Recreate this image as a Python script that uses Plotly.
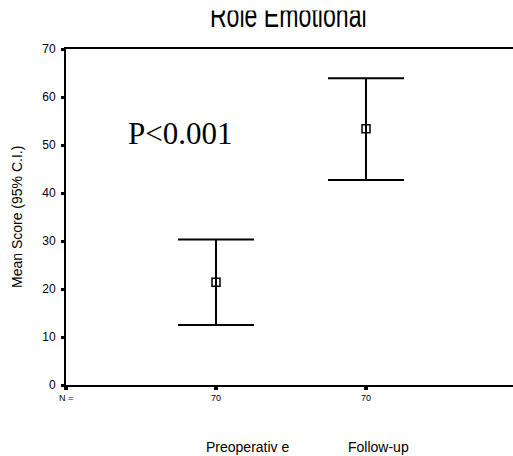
import plotly.graph_objects as go

# ---- data ----
categories = ["Preoperativ e", "Follow-up"]
n_counts = [70, 70]
mean_scores = [21.4, 53.4]
ci_upper = [30.3, 63.9]
ci_lower = [12.5, 42.7]
y_ticks = [0, 10, 20, 30, 40, 50, 60, 70]
p_text = "P<0.001"
chart_title = "Role Emotional"
y_title = "Mean Score (95% C.I.)"

xpos = list(range(1, len(categories) + 1))
err_plus = [u - m for u, m in zip(ci_upper, mean_scores)]
err_minus = [m - l for m, l in zip(mean_scores, ci_lower)]

fig = go.Figure()
fig.add_trace(go.Scatter(
    x=xpos, y=mean_scores, mode="markers",
    marker=dict(symbol="square-open", size=8, color="black", line=dict(width=1.5, color="black")),
    error_y=dict(type="data", array=err_plus, arrayminus=err_minus, symmetric=False,
                 color="black", thickness=2, width=38),
    showlegend=False, hoverinfo="skip",
))

font_sans = "Liberation Sans, Arial, sans-serif"
annotations = []
# category labels below the N row
label_shift = [31, 12]
for xp, cat, sh in zip(xpos, categories, label_shift):
    annotations.append(dict(x=xp, xref="x", y=0, yref="paper", yshift=-62, xshift=sh,
                            text=cat, showarrow=False, xanchor="center", yanchor="middle",
                            font=dict(family=font_sans, size=14, color="black")))
# P value
annotations.append(dict(x=0.76, xref="x", y=52.3, yref="y", text=p_text, showarrow=False,
                        xanchor="center", yanchor="middle",
                        font=dict(family="Liberation Serif, Times New Roman, serif", size=31, color="black")))
# y axis title
annotations.append(dict(x=0, xref="paper", xshift=-49, y=0.5, yref="paper", text=y_title,
                        textangle=-90, showarrow=False, xanchor="center", yanchor="middle",
                        font=dict(family=font_sans, size=14, color="black")))
# chart title (top of it is cut off in the reference)
annotations.append(dict(x=0.5, xref="paper", xshift=-1, y=1, yref="paper", yshift=34,
                        text=chart_title, showarrow=False, xanchor="center", yanchor="middle",
                        font=dict(family=font_sans, size=34, color="black")))
# white strip hiding the top of the title, as in the reference
annotations.append(dict(x=0.426, xref="paper", y=1, yref="paper", yshift=44, text=" ",
                        showarrow=False, xanchor="center", yanchor="middle", width=513, height=10,
                        borderpad=0, bgcolor="white", font=dict(size=1)))

fig.update_layout(
    width=513, height=456,
    margin=dict(l=66, r=0, t=49, b=71),
    paper_bgcolor="white", plot_bgcolor="white",
    annotations=annotations,
    xaxis=dict(range=[0, 2.98], showline=True, linecolor="black", linewidth=2, mirror=True,
               tickmode="array", tickvals=[0] + xpos, ticktext=["N ="] + [str(v) for v in n_counts],
               ticks="outside", ticklen=3, tickwidth=4, tickcolor="black",
               tickfont=dict(family=font_sans, size=9, color="black"),
               showgrid=False, zeroline=False, fixedrange=True),
    yaxis=dict(range=[0, 70], tickmode="array", tickvals=y_ticks, showline=True, linecolor="black",
               linewidth=2, ticks="outside", ticklen=3, tickwidth=3, tickcolor="black",
               ticklabelstandoff=3,
               tickfont=dict(family=font_sans, size=12, color="black"),
               showgrid=False, zeroline=False, fixedrange=True),
)

post = """
document.body.style.margin = '0';
document.body.style.padding = '0';
function squeezeTitle() {
  document.querySelectorAll('text.annotation-text').forEach(function (t) {
    if (t.textContent === 'Role Emotional') {
      t.style.transformBox = 'fill-box';
      t.style.transformOrigin = 'center';
      t.style.transform = 'scaleX(0.68)';
    }
  });
}
squeezeTitle();
setTimeout(squeezeTitle, 0);
setTimeout(squeezeTitle, 200);
"""

fig.write_html("out.html", post_script=post, config={"displayModeBar": False})
